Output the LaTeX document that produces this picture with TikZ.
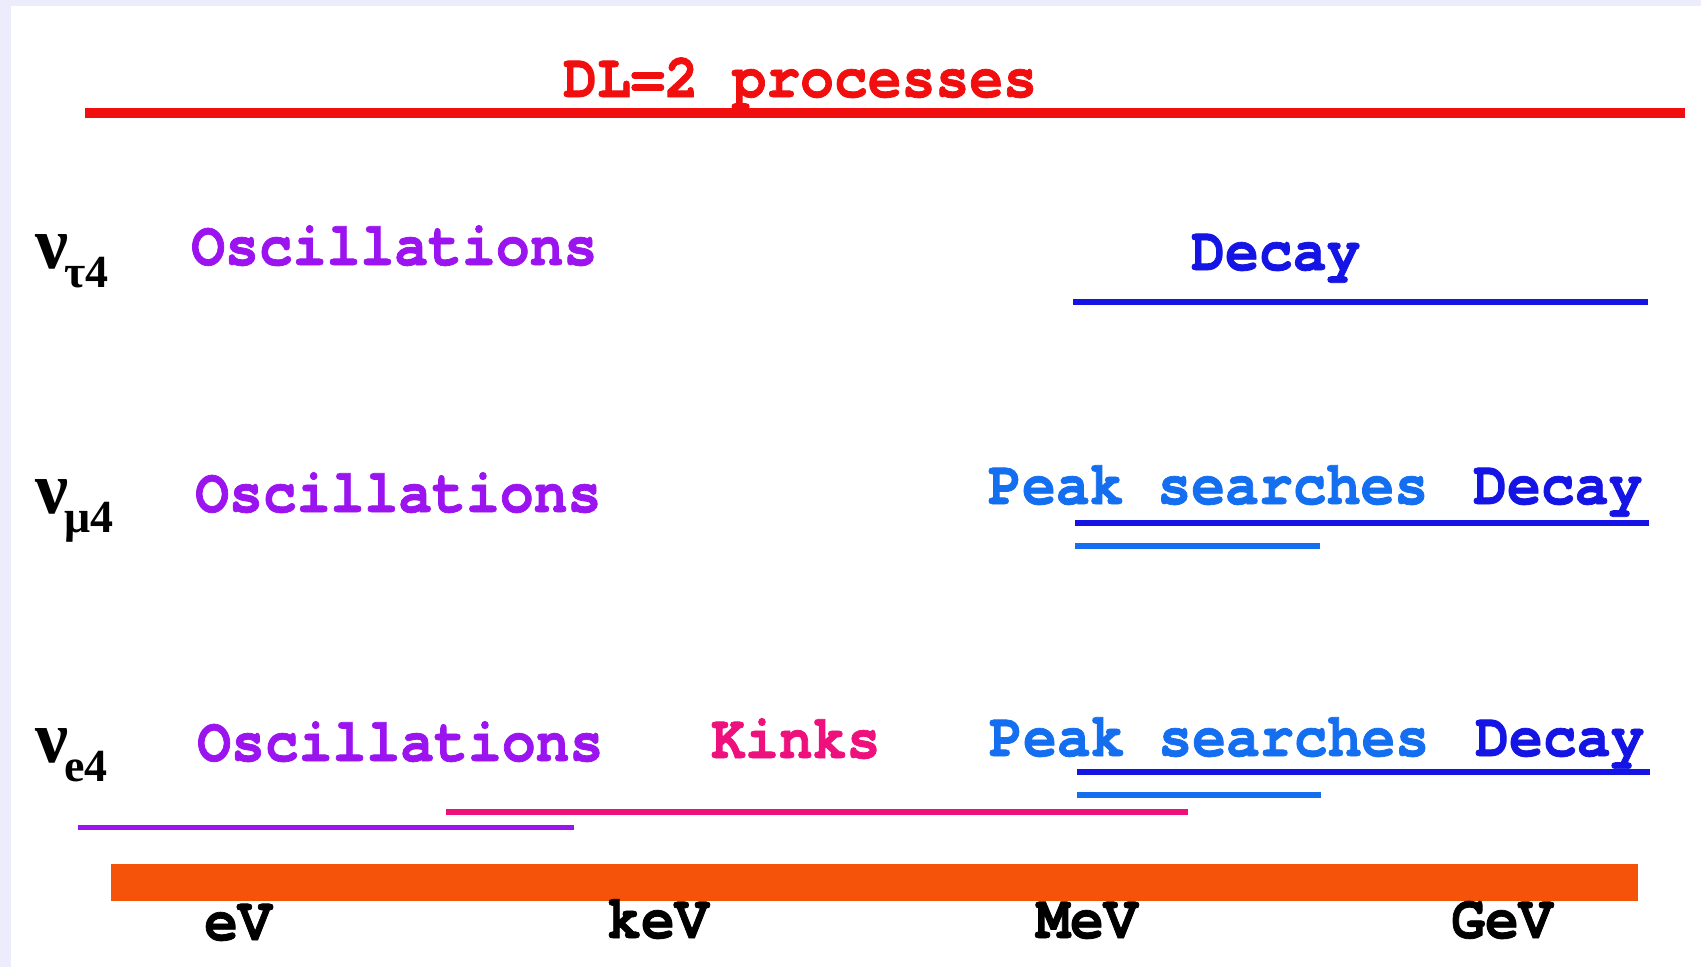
\documentclass[tikz,border=0pt]{standalone}
\usepackage{fontspec}
\setmainfont{Liberation Serif}
\newfontfamily\monob{texgyrecursor-bold.otf}[FakeBold=1.2,FakeStretch=0.91]
\definecolor{tred}{RGB}{240,14,14}
\definecolor{tpurple}{RGB}{155,20,240}
\definecolor{tpink}{RGB}{238,16,124}
\definecolor{tdblue}{RGB}{20,20,228}
\definecolor{tlblue}{RGB}{20,110,240}
\definecolor{torange}{RGB}{245,83,10}
\definecolor{tlav}{RGB}{236,236,252}
\newcommand{\nulab}[1]{{\fontsize{74}{74}\selectfont\bfseries ν}\kern-4pt\raisebox{-19pt}{\fontsize{46}{46}\selectfont\bfseries #1}}
\begin{document}
\begin{tikzpicture}[x=1pt,y=-1pt,
  txt/.style={anchor=base west,inner sep=0pt,font=\monob\fontsize{62}{66}\selectfont},
  lab/.style={anchor=base west,inner sep=0pt},
  uline/.style={line width=#1,line cap=butt},
  uline/.default=5.5pt]
\useasboundingbox (0,0) rectangle (1701,967);
\fill[tlav] (0,0) rectangle (1701,967);
\fill[white] (11,6) rectangle (1701,967);
% title
\node[txt,text=tred] (title) at (563,97) {DL=2 processes};
\coordinate (r1) at (85,113); \coordinate (r2) at (1685,113);
\draw[uline=10pt,tred] (r1) -- (r2);
% row 1
\node[lab] (nu1) at (35,268) {\nulab{τ4}};
\node[txt,text=tpurple] (osc1) at (191,265) {Oscillations};
\node[txt,text=tdblue] (dec1) at (1191,270) {Decay};
\coordinate (b1a) at (1073,302); \coordinate (b1b) at (1648,302);
\draw[uline,tdblue] (b1a) -- (b1b);
% row 2
\node[lab] (nu2) at (35,513) {\nulab{μ4}};
\node[txt,text=tpurple] (osc2) at (195,512) {Oscillations};
\node[txt,text=tlblue] (peak2) at (988,504) {Peak searches};
\node[txt,text=tdblue] (dec2) at (1473,504) {Decay};
\coordinate (b2a) at (1075,523); \coordinate (b2b) at (1649,523);
\draw[uline,tdblue] (b2a) -- (b2b);
\coordinate (l2a) at (1075,546); \coordinate (l2b) at (1320,546);
\draw[uline,tlblue] (l2a) -- (l2b);
% row 3
\node[lab] (nu3) at (35,762) {\nulab{e4}};
\node[txt,text=tpurple] (osc3) at (197,761) {Oscillations};
\node[txt,text=tpink] (kink) at (711,758) {Kinks};
\node[txt,text=tlblue] (peak3) at (989,756) {Peak searches};
\node[txt,text=tdblue] (dec3) at (1475,756) {Decay};
\coordinate (b3a) at (1077,772); \coordinate (b3b) at (1650,772);
\draw[uline,tdblue] (b3a) -- (b3b);
\coordinate (l3a) at (1077,795); \coordinate (l3b) at (1321,795);
\draw[uline,tlblue] (l3a) -- (l3b);
\coordinate (pk1) at (446,812); \coordinate (pk2) at (1188,812);
\draw[uline=6pt,tpink] (pk1) -- (pk2);
\coordinate (pu1) at (78,827); \coordinate (pu2) at (574,827);
\draw[uline=5pt,tpurple] (pu1) -- (pu2);
% energy axis
\coordinate (ax1) at (111,864); \coordinate (ax2) at (1638,901);
\fill[torange] (ax1) rectangle (ax2);
\node[txt] (ev) at (204,940) {eV};
\node[txt] (kev) at (607,938) {keV};
\node[txt] (mev) at (1036,938) {MeV};
\node[txt] (gev) at (1451,938) {GeV};
\end{tikzpicture}
\end{document}
